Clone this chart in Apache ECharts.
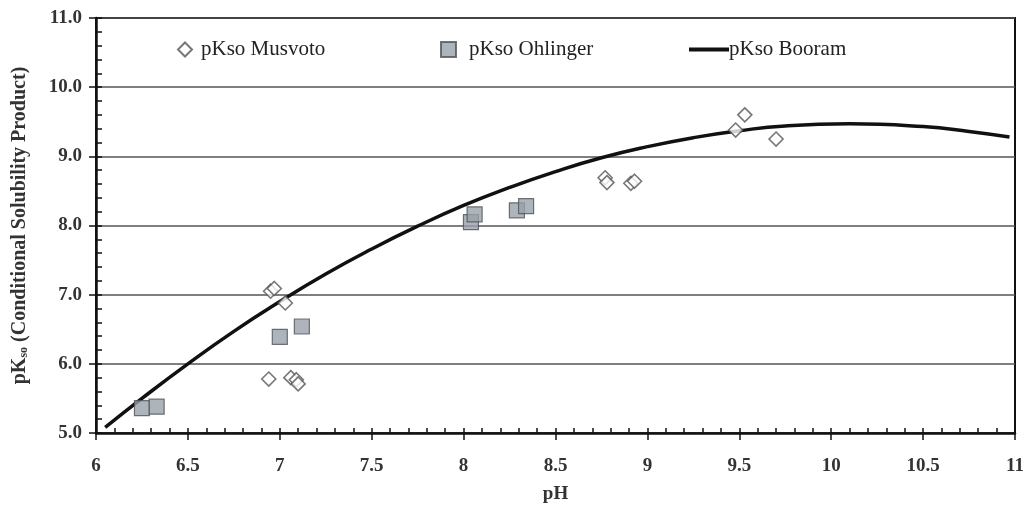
<!DOCTYPE html>
<html>
<head>
<meta charset="utf-8">
<script src="https://cdn.jsdelivr.net/npm/echarts@6/dist/echarts.min.js"></script>
<style>
    html, body { margin: 0; padding: 0; background: #fff; }
    #chart { width: 1027px; height: 513px; }
</style>
</head>
<body>
<div id="chart"></div>
<script>
    // Musvoto data (open diamonds)
    const musvotoPH = [6.95, 6.97, 7.03, 6.94, 7.06, 7.09, 7.10, 8.77, 8.78, 8.91, 8.93, 9.48, 9.53, 9.70];
    const musvotoPK = [7.05, 7.09, 6.88, 5.78, 5.80, 5.77, 5.71, 8.69, 8.62, 8.61, 8.64, 9.38, 9.60, 9.25];
    // Ohlinger data (grey squares)
    const ohlingerPH = [6.25, 6.33, 7.00, 7.12, 8.04, 8.06, 8.29, 8.34];
    const ohlingerPK = [5.36, 5.38, 6.39, 6.54, 8.05, 8.16, 8.22, 8.28];
    // Booram curve
    const booramPH = [6.05, 6.25, 6.5, 6.75, 7.0, 7.25, 7.5, 7.75, 8.0, 8.25, 8.5, 8.75, 9.0, 9.25, 9.5, 9.75, 10.1, 10.5, 10.75, 10.97];
    const booramPK = [5.08, 5.50, 6.00, 6.47, 6.90, 7.30, 7.66, 7.99, 8.29, 8.55, 8.78, 8.98, 9.14, 9.27, 9.37, 9.44, 9.47, 9.43, 9.36, 9.28];

    const toPairs = (xs, ys) => xs.map((x, i) => [x, ys[i]]);

    const serif = '"Liberation Serif", "DejaVu Serif", serif';
    const legendText = { fontFamily: serif, fontSize: 21, color: '#222' };
    const chart = echarts.init(document.getElementById('chart'));
    chart.setOption({
        animation: false,
        textStyle: { fontFamily: serif },
        grid: {
            left: 96, right: 12, top: 18, bottom: 80,
            show: true,
            borderColor: '#111',
            borderWidth: 2,
            backgroundColor: 'transparent'
        },
        legend: [
            {
                data: ['pKso Musvoto'], left: 172, top: 34,
                itemWidth: 14, itemHeight: 14,
                textStyle: Object.assign({}, legendText, { padding: [0, 0, 0, 4] })
            },
            {
                data: ['pKso Ohlinger'], left: 435, top: 34,
                itemWidth: 15, itemHeight: 15,
                textStyle: Object.assign({}, legendText, { padding: [0, 0, 0, 8] })
            },
            {
                data: [{ name: 'pKso Booram', icon: 'rect' }], left: 684, top: 34,
                itemWidth: 40, itemHeight: 4,
                textStyle: Object.assign({}, legendText, { padding: [0, 0, 0, -5] })
            }
        ],
        xAxis: [
            {
                type: 'value', min: 6, max: 11, interval: 0.5,
                name: 'pH', nameLocation: 'middle', nameGap: 52,
                nameTextStyle: { fontFamily: serif, fontSize: 19, fontWeight: 'bold', color: '#333' },
                axisLine: { lineStyle: { color: '#111', width: 2.5 } },
                axisTick: { inside: true, length: 5, lineStyle: { color: '#111', width: 1.5 } },
                minorTick: { show: true, splitNumber: 5, length: 5, lineStyle: { color: '#111', width: 1.5 } },
                axisLabel: {
                    margin: 24, fontFamily: serif, fontSize: 19, fontWeight: 'bold', color: '#333',
                    formatter: v => String(v)
                },
                splitLine: { show: false }
            },
            {
                type: 'value', min: 6, max: 11, interval: 0.5, position: 'bottom',
                axisLine: { show: false },
                axisTick: { length: 7, lineStyle: { color: '#111', width: 1.5 } },
                axisLabel: { show: false },
                splitLine: { show: false }
            }
        ],
        yAxis: [
            {
                type: 'value', min: 5, max: 11, interval: 1,
                name: '{b|pK}{s|so}{b| (Conditional Solubility Product)}',
                nameLocation: 'middle', nameGap: 66, nameRotate: 90,
                nameTextStyle: {
                    rich: {
                        b: { fontFamily: serif, fontSize: 20, fontWeight: 'bold', color: '#333' },
                        s: { fontFamily: serif, fontSize: 12, fontWeight: 'bold', color: '#333', padding: [7, 0, 0, 0] }
                    }
                },
                axisLine: { lineStyle: { color: '#111', width: 2.5 } },
                axisTick: { inside: true, length: 6, lineStyle: { color: '#111', width: 1.5 } },
                minorTick: { show: true, splitNumber: 5, length: 6, lineStyle: { color: '#111', width: 1.5 } },
                axisLabel: {
                    margin: 14, fontFamily: serif, fontSize: 19, fontWeight: 'bold', color: '#333',
                    formatter: v => v.toFixed(1)
                },
                splitLine: { show: true, lineStyle: { color: '#555', width: 1.5 } }
            },
            {
                type: 'value', min: 5, max: 11, interval: 1, position: 'left',
                axisLine: { show: false },
                axisTick: { length: 7, lineStyle: { color: '#111', width: 1.5 } },
                axisLabel: { show: false },
                splitLine: { show: false }
            }
        ],
        series: [
            {
                name: 'pKso Booram',
                type: 'line',
                smooth: true,
                showSymbol: false,
                symbol: 'none',
                lineStyle: { color: '#111', width: 3.5 },
                itemStyle: { color: '#111' },
                data: toPairs(booramPH, booramPK),
                z: 3
            },
            {
                name: 'pKso Musvoto',
                type: 'scatter',
                symbol: 'diamond',
                symbolSize: 14,
                itemStyle: { color: '#fff', borderColor: '#555', borderWidth: 1.6 },
                data: toPairs(musvotoPH, musvotoPK),
                z: 4
            },
            {
                name: 'pKso Ohlinger',
                type: 'scatter',
                symbol: 'rect',
                symbolSize: 15,
                itemStyle: { color: '#9aa1aa', borderColor: '#4d5258', borderWidth: 1.2 },
                data: toPairs(ohlingerPH, ohlingerPK),
                z: 4
            }
        ]
    });
</script>
</body>
</html>
